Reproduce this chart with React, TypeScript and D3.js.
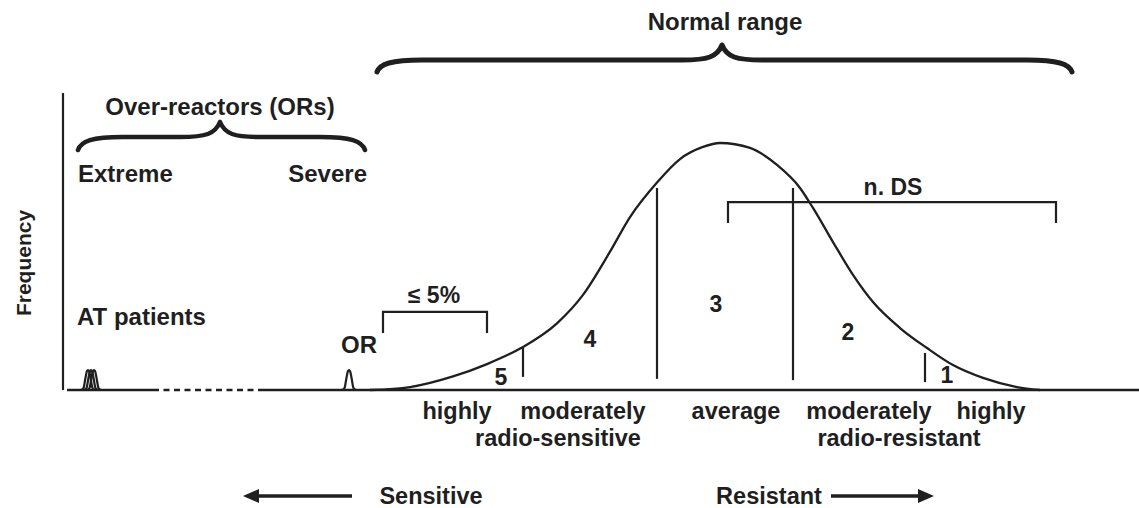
import React from 'react';
import * as d3 from 'd3';

const W = 1139;
const H = 508;

// ---- data (x: radiosensitivity in SD units from population mean; y: relative frequency) ----
const curveX = [-3.5, -3.1, -2.67, -2.33, -1.98, -1.63, -1.37, -1.1, -0.9, -0.63, -0.4, -0.17, 0, 0.3, 0.57, 0.8, 0.93, 1.13, 1.33, 1.53, 1.8, 2.07, 2.33, 2.63, 2.97, 3.2];
const curveY = [0, 0.012, 0.055, 0.105, 0.172, 0.27, 0.385, 0.56, 0.7, 0.84, 0.935, 0.984, 1.0, 0.98, 0.911, 0.818, 0.737, 0.599, 0.466, 0.356, 0.251, 0.17, 0.101, 0.049, 0.012, 0];

// small peaks (AT patients and OR)
const peakDX = [-0.07, -0.045, -0.025, -0.01, 0, 0.01, 0.025, 0.045, 0.07];
const peakDY = [0, 0.008, 0.05, 0.077, 0.081, 0.077, 0.05, 0.008, 0];
const atCenters = [-6.32, -6.29, -6.26];
const orCenter = -3.71;

// baseline segments [from, to, dashed]
const baseFrom = [-6.53, -5.67, -4.62];
const baseTo = [-5.67, -4.62, 4.19];
const baseDashed = [false, true, false];

// class dividers
const dividerX = [-1.97, -0.63, 0.73, 2.05];
const dividerTop = [0.174, 0.818, 0.818, 0.15];
const dividerBottom = [0.053, 0.045, 0.04, 0.032];

// class numbers
const classNums = ['5', '4', '3', '2', '1'];
const classX = [-2.19, -1.3, -0.04, 1.28, 2.27];
const classY = [0.02, 0.174, 0.316, 0.202, 0.028];

// brackets
const bracketLabels = ['≤ 5%', 'n. DS'];
const bracketX0 = [-3.37, 0.08];
const bracketX1 = [-2.33, 3.36];
const bracketTop = [0.316, 0.761];
const bracketBottom = [0.231, 0.676];
const bracketLabelX = [-2.86, 1.73];
const bracketLabelY = [0.352, 0.789];

// category labels under the axis
const row1Labels = ['highly', 'moderately', 'average', 'moderately', 'highly'];
const row1X = [-2.63, -1.37, 0.16, 1.49, 2.71];
const row2Labels = ['radio-sensitive', 'radio-resistant'];
const row2X = [-1.62, 1.79];

// ---- scales ----
const xS = d3.scaleLinear().domain([-6.5, 4.0]).range([70, 1120]);
const yS = d3.scaleLinear().domain([0, 1]).range([390, 143]);

const line = d3
  .line<[number, number]>()
  .x((d) => xS(d[0]))
  .y((d) => yS(d[1]))
  .curve(d3.curveMonotoneX);

const INK = '#1f1f1f';
const FONT = "'Liberation Sans', Arial, Helvetica, sans-serif";

function bracePath(x1: number, x2: number, xc: number, yEnd: number, yBody: number, yTip: number) {
  const l = `M${x1},${yEnd} C${x1 + 3},${yBody + 4} ${x1 + 14},${yBody} ${x1 + 45},${yBody} L${xc - 40},${yBody} C${xc - 14},${yBody} ${xc - 5},${yBody - 3} ${xc},${yTip}`;
  const r = `M${x2},${yEnd} C${x2 - 3},${yBody + 4} ${x2 - 14},${yBody} ${x2 - 45},${yBody} L${xc + 40},${yBody} C${xc + 14},${yBody} ${xc + 5},${yBody - 3} ${xc},${yTip}`;
  return l + ' ' + r;
}

export default function App() {
  const mainPts: [number, number][] = curveX.map((x, i) => [x, curveY[i]]);
  const peakPts = (c: number): [number, number][] => peakDX.map((dx, i) => [c + dx, peakDY[i]]);

  const txt = {
    fontFamily: FONT,
    fontWeight: 700 as const,
    fill: INK,
  };

  return (
    <svg
      width={W}
      height={H}
      viewBox={`0 0 ${W} ${H}`}
      style={{ position: 'absolute', left: 0, top: 0, background: '#fff' }}
    >
      <rect x={0} y={0} width={W} height={H} fill="#fff" />

      {/* Top brace: Normal range */}
      <text {...txt} x={xS(0.05)} y={30} fontSize={24} textAnchor="middle">Normal range</text>
      <path
        d={bracePath(xS(-3.43), xS(3.52), xS(0.02), 72, 60, 45)}
        fill="none"
        stroke={INK}
        strokeWidth={5}
        strokeLinecap="round"
        strokeLinejoin="round"
      />

      {/* Over-reactors brace */}
      <text {...txt} x={xS(-5.0)} y={115} fontSize={24} textAnchor="middle">Over-reactors (ORs)</text>
      <path
        d={bracePath(xS(-6.42), xS(-3.55), xS(-5.0), 150, 137, 122)}
        fill="none"
        stroke={INK}
        strokeWidth={4.5}
        strokeLinecap="round"
        strokeLinejoin="round"
      />
      <text {...txt} x={xS(-6.42)} y={182} fontSize={24} textAnchor="start">Extreme</text>
      <text {...txt} x={xS(-3.53)} y={182} fontSize={24} textAnchor="end">Severe</text>

      {/* Y axis */}
      <line x1={63} y1={93} x2={63} y2={yS(0)} stroke={INK} strokeWidth={2.2} />
      <text {...txt} fontSize={21} textAnchor="middle" transform={`translate(31,263) rotate(-90)`}>
        Frequency
      </text>

      {/* Baseline */}
      {baseFrom.map((f, i) => (
        <line
          key={'b' + i}
          x1={xS(f)}
          x2={xS(baseTo[i])}
          y1={yS(0)}
          y2={yS(0)}
          stroke={INK}
          strokeWidth={2.6}
          strokeDasharray={baseDashed[i] ? '6,4.5' : undefined}
        />
      ))}

      {/* AT patients peaks */}
      <text {...txt} x={77} y={yS(0.263)} fontSize={24}>AT patients</text>
      {atCenters.map((c, i) => (
        <path key={'at' + i} d={line(peakPts(c)) || ''} fill="none" stroke={INK} strokeWidth={2.2} />
      ))}

      {/* OR peak */}
      <text {...txt} x={xS(-3.61)} y={yS(0.15)} fontSize={24} textAnchor="middle">OR</text>
      <path d={line(peakPts(orCenter)) || ''} fill="none" stroke={INK} strokeWidth={2.2} />

      {/* Main distribution */}
      <path d={line(mainPts) || ''} fill="none" stroke={INK} strokeWidth={2.3} />

      {/* dividers */}
      {dividerX.map((x, i) => (
        <line
          key={'d' + i}
          x1={xS(x)}
          x2={xS(x)}
          y1={yS(dividerTop[i])}
          y2={yS(dividerBottom[i])}
          stroke={INK}
          strokeWidth={2.2}
        />
      ))}

      {/* class numbers */}
      {classNums.map((n, i) => (
        <text key={'n' + i} {...txt} x={xS(classX[i])} y={yS(classY[i])} fontSize={23} textAnchor="middle">
          {n}
        </text>
      ))}

      {/* brackets */}
      {bracketLabels.map((lab, i) => (
        <g key={'br' + i}>
          <path
            d={`M${xS(bracketX0[i])},${yS(bracketBottom[i])} V${yS(bracketTop[i])} H${xS(bracketX1[i])} V${yS(bracketBottom[i])}`}
            fill="none"
            stroke={INK}
            strokeWidth={2.2}
          />
          <text {...txt} x={xS(bracketLabelX[i])} y={yS(bracketLabelY[i])} fontSize={23} textAnchor="middle">
            {lab}
          </text>
        </g>
      ))}

      {/* labels below axis */}
      {row1Labels.map((l, i) => (
        <text key={'r1' + i} {...txt} x={xS(row1X[i])} y={419} fontSize={23.5} textAnchor="middle">
          {l}
        </text>
      ))}
      {row2Labels.map((l, i) => (
        <text key={'r2' + i} {...txt} x={xS(row2X[i])} y={446} fontSize={23.5} textAnchor="middle">
          {l}
        </text>
      ))}

      {/* direction arrows */}
      <line x1={254} x2={352} y1={496} y2={496} stroke={INK} strokeWidth={3.5} />
      <path d={`M243,496 L259,489 L259,503 Z`} fill={INK} />
      <text {...txt} x={431} y={504} fontSize={23.5} textAnchor="middle">Sensitive</text>

      <text {...txt} x={769} y={504} fontSize={23.5} textAnchor="middle">Resistant</text>
      <line x1={831} x2={922} y1={496} y2={496} stroke={INK} strokeWidth={3.5} />
      <path d={`M934,496 L918,489 L918,503 Z`} fill={INK} />
    </svg>
  );
}
